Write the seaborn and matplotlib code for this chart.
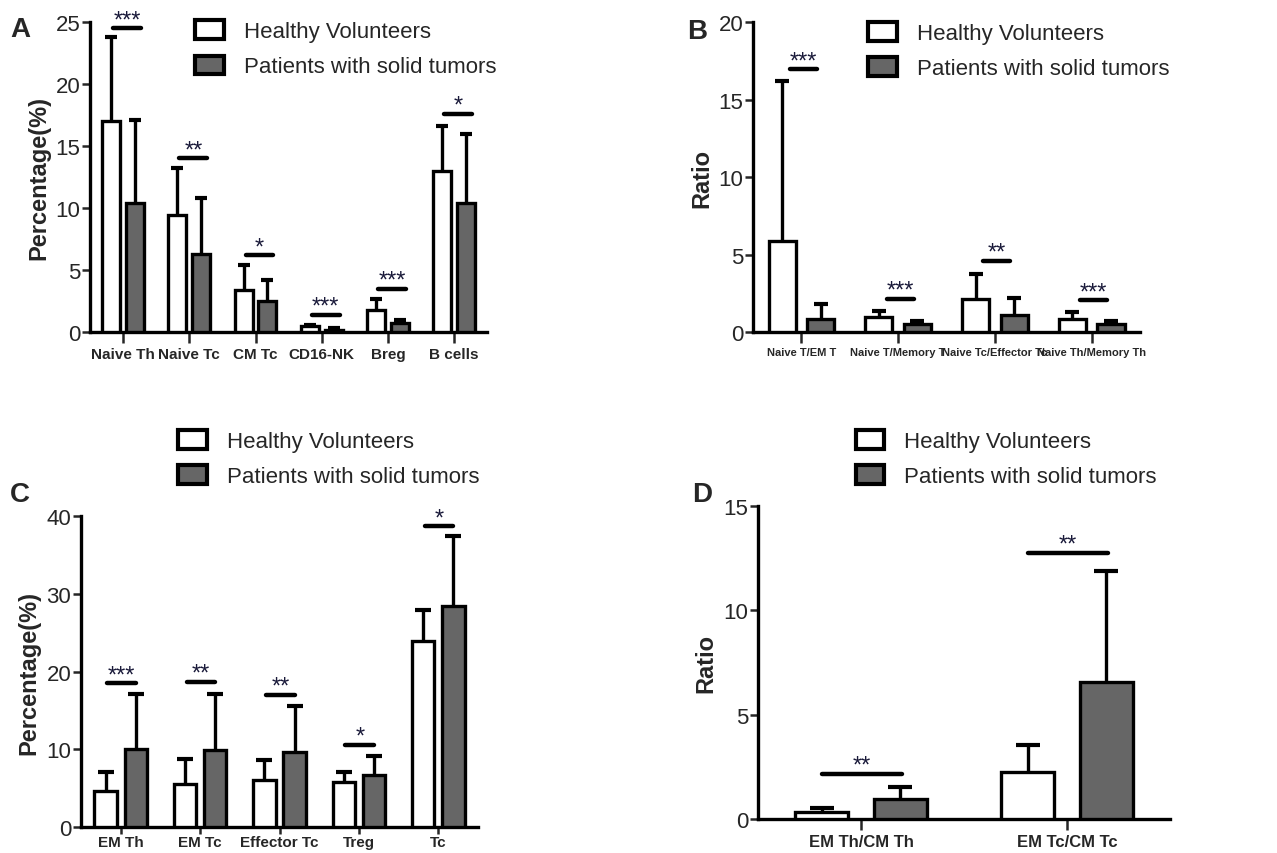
import numpy as np
import pandas as pd
import matplotlib
matplotlib.use("Agg")
import matplotlib.pyplot as plt
import seaborn as sns
from matplotlib.patches import Patch

groups = ["Healthy Volunteers", "Patients with solid tumors"]

# panel A
a_cats = ["Naive Th", "Naive Tc", "CM Tc", "CD16-NK", "Breg", "B cells"]
a_healthy = [17.0, 9.4, 3.4, 0.5, 1.8, 13.0]
a_healthy_top = [23.8, 13.2, 5.4, 0.6, 2.7, 16.6]
a_patients = [10.4, 6.3, 2.5, 0.2, 0.7, 10.4]
a_patients_top = [17.1, 10.8, 4.2, 0.3, 1.0, 16.0]
a_stars = ["***", "**", "*", "***", "***", "*"]
a_star_y = [24.5, 14.0, 6.2, 1.4, 3.5, 17.6]

# panel B
b_cats = ["Naive T/EM T", "Naive T/Memory T", "Naive Tc/Effector Tc", "Naive Th/Memory Th"]
b_healthy = [5.85, 0.97, 2.15, 0.82]
b_healthy_top = [16.2, 1.35, 3.76, 1.29]
b_patients = [0.86, 0.54, 1.07, 0.54]
b_patients_top = [1.82, 0.69, 2.19, 0.69]
b_stars = ["***", "***", "**", "***"]
b_star_y = [16.95, 2.15, 4.6, 2.05]

# panel C
c_cats = ["EM Th", "EM Tc", "Effector Tc", "Treg", "Tc"]
c_healthy = [4.6, 5.6, 6.0, 5.8, 24.0]
c_healthy_top = [7.1, 8.8, 8.6, 7.1, 27.9]
c_patients = [10.1, 9.9, 9.7, 6.7, 28.4]
c_patients_top = [17.1, 17.1, 15.6, 9.2, 37.5]
c_stars = ["***", "**", "**", "*", "*"]
c_star_y = [18.5, 18.7, 17.0, 10.6, 38.7]

# panel D
d_cats = ["EM Th/CM Th", "EM Tc/CM Tc"]
d_healthy = [0.32, 2.24]
d_healthy_top = [0.51, 3.55]
d_patients = [0.96, 6.56]
d_patients_top = [1.55, 11.9]
d_stars = ["**", "**"]
d_star_y = [2.16, 12.75]

GREY = "#666666"
SANS = ["Liberation Sans", "DejaVu Sans"]

sns.set_style("ticks")
plt.rcParams["font.family"] = SANS


def panel(ax, cats, h, h_top, p, p_top, stars, star_y, span, ymax, ystep,
          width, gap, capsize, ylabel, xfont, xtick_len=8):
    df = pd.DataFrame({
        "cell": cats * 2,
        "group": [groups[0]] * len(cats) + [groups[1]] * len(cats),
        "value": h + p,
    })
    sns.barplot(data=df, x="cell", y="value", hue="group", hue_order=groups,
                palette=["white", GREY], width=width, gap=gap, errorbar=None,
                edgecolor="black", linewidth=2.4, legend=False, ax=ax, zorder=3)
    for cont, mean, top in zip(ax.containers, [h, p], [h_top, p_top]):
        xs = [b.get_x() + b.get_width() / 2 for b in cont]
        up = np.array(top) - np.array(mean)
        eb = ax.errorbar(xs, mean, yerr=[np.zeros_like(up), up], fmt="none",
                         ecolor="black", elinewidth=2.4, capsize=capsize,
                         capthick=3, zorder=2)
        # only the upper cap is drawn
        eb[1][0].set_visible(False)
    for i, (s, y) in enumerate(zip(stars, star_y)):
        ax.plot([i + span[0], i + span[1]], [y, y], color="black", lw=3.2,
                solid_capstyle="round", clip_on=False, zorder=4)
        ax.annotate(s, (i + (span[0] + span[1]) / 2, y), xytext=(0, 1.5),
                    textcoords="offset points", ha="center", va="baseline",
                    fontsize=17, color="#1a1a3a", annotation_clip=False)
    ax.set_xlim(-0.5, len(cats) - 0.5)
    ax.set_ylim(0, ymax)
    ax.set_yticks(np.arange(0, ymax + 0.1, ystep))
    ax.set_xlabel("")
    ax.set_ylabel(ylabel, fontsize=17, fontweight="bold", labelpad=4)
    sns.despine(ax=ax)
    for sp in ["left", "bottom"]:
        ax.spines[sp].set_linewidth(2.4)
        ax.spines[sp].set_color("black")
    ax.tick_params(axis="y", length=6, width=1.8, labelsize=16, pad=1)
    ax.tick_params(axis="x", length=xtick_len, width=1.8, labelsize=xfont, pad=3)
    for t in ax.get_xticklabels():
        t.set_fontweight("bold")


fig = plt.figure(figsize=(12.77, 8.54), dpi=100)
axA = fig.add_axes([0.0705, 0.610, 0.311, 0.363])
axB = fig.add_axes([0.5897, 0.610, 0.303, 0.363])
axC = fig.add_axes([0.0634, 0.0304, 0.311, 0.364])
axD = fig.add_axes([0.5936, 0.0398, 0.3226, 0.3665])

panel(axA, a_cats, a_healthy, a_healthy_top, a_patients, a_patients_top,
      a_stars, a_star_y, (-0.15, 0.27), 25, 5, 0.72, 0.24, 4,
      "Percentage(%)", 11)
panel(axB, b_cats, b_healthy, b_healthy_top, b_patients, b_patients_top,
      b_stars, b_star_y, (-0.12, 0.16), 20, 5, 0.8, 0.3, 5, "Ratio", 8)
panel(axC, c_cats, c_healthy, c_healthy_top, c_patients, c_patients_top,
      c_stars, c_star_y, (-0.17, 0.19), 40, 10, 0.76, 0.26, 6,
      "Percentage(%)", 11, xtick_len=5)
panel(axD, d_cats, d_healthy, d_healthy_top, d_patients, d_patients_top,
      d_stars, d_star_y, (-0.19, 0.2), 15, 5, 0.76, 0.32, 8.5, "Ratio", 12)
axC.tick_params(axis="x", pad=1)

handles = [Patch(facecolor="white", edgecolor="black", linewidth=3),
           Patch(facecolor=GREY, edgecolor="black", linewidth=3)]
for x, y in [(0.1527, 0.975), (0.680, 0.973), (0.1394, 0.495), (0.670, 0.495)]:
    fig.legend(handles, groups, loc="upper left", bbox_to_anchor=(x, y),
               frameon=False, borderpad=0, borderaxespad=0,
               handlelength=1.3, handleheight=0.9, handletextpad=0.9,
               labelspacing=0.6, prop={"size": 16})

for letter, x, y in [("A", 0.008, 0.965), ("B", 0.538, 0.963),
                     ("C", 0.008, 0.42), ("D", 0.542, 0.42)]:
    fig.text(x, y, letter, fontsize=20, fontweight="bold", va="center")

fig.savefig("out.png", dpi=100)
